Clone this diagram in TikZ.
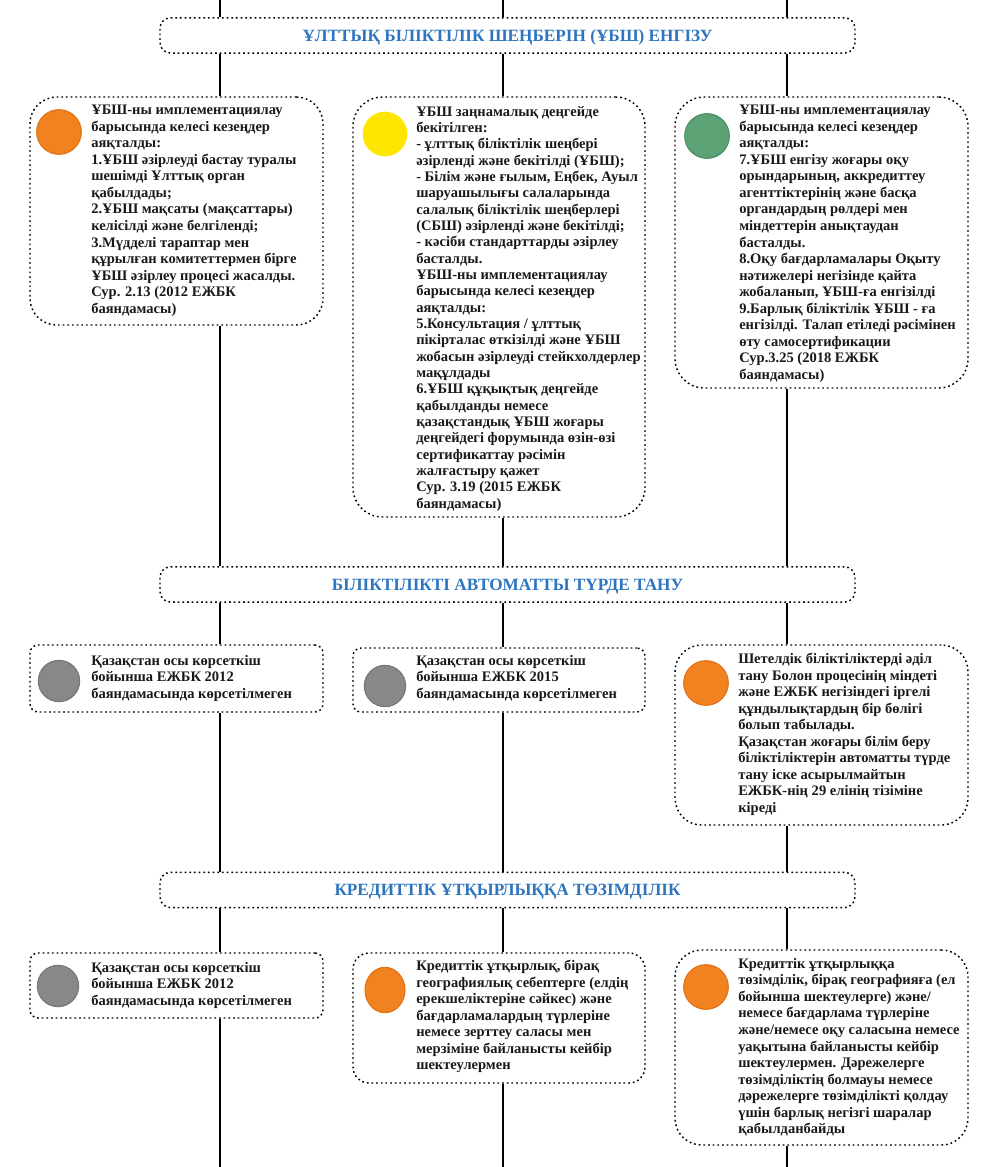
\documentclass[tikz,border=0pt]{standalone}
\usepackage{fontspec}
\setmainfont{Liberation Serif}
\usetikzlibrary{fit,shapes.geometric}
\definecolor{hblue}{RGB}{46,117,192}
\definecolor{txtc}{RGB}{25,25,25}
\definecolor{dorange}{RGB}{240,130,32}
\definecolor{dorangeb}{RGB}{228,112,20}
\definecolor{dyellow}{RGB}{255,230,0}
\definecolor{dgreen}{RGB}{92,162,116}
\definecolor{dgreenb}{RGB}{70,140,95}
\definecolor{dgray}{RGB}{136,136,136}
\definecolor{dgrayb}{RGB}{118,118,118}
\tikzset{
  box/.style={draw=black, line width=1.1pt, dash pattern=on 1.3pt off 2.2pt,
    rounded corners=#1, inner sep=0pt, fill=white},
  box/.default=18pt,
  head/.style={box=8pt, minimum width=521.25pt, minimum height=26.5pt, text depth=0pt,
    font=\bfseries\fontsize{12.9}{15}\selectfont, text=hblue},
  txt/.style={anchor=north west, align=left, inner sep=0pt, text=txtc,
    font=\bfseries\fontsize{10.9}{12.4}\selectfont},
  txtm/.style={txt, font=\bfseries\fontsize{10.9}{12.25}\selectfont},
  dot/.style={circle, inner sep=0pt, minimum size=33.5pt, line width=0.8pt},
  gdot/.style={circle, inner sep=0pt, minimum size=31pt, line width=0.8pt},
  oval/.style={ellipse, inner sep=0pt, minimum width=30pt, minimum height=34pt, line width=0.8pt},
  link/.style={line width=1.1pt, black}
}
\begin{document}
\begin{tikzpicture}[x=0.75pt,y=-0.75pt]
\useasboundingbox (0,0) rectangle (1000,1167);
\fill[white] (0,0) rectangle (1000,1167);

% column coordinates
\coordinate (tA) at (220,0);
\coordinate (tB) at (503,0);
\coordinate (tC) at (787,0);
\coordinate (bA) at (220,1167);
\coordinate (bB) at (503,1167);
\coordinate (bC) at (787,1167);

% headers
\node[head] (h1) at (507.5,35.5) {ҰЛТТЫҚ БІЛІКТІЛІК ШЕҢБЕРІН (ҰБШ) ЕНГІЗУ};
\node[head] (h2) at (507.5,584.5) {БІЛІКТІЛІКТІ АВТОМАТТЫ ТҮРДЕ ТАНУ};
\node[head] (h3) at (507.5,890) {КРЕДИТТІК ҰТҚЫРЛЫҚҚА ТӨЗІМДІЛІК};

% boxes
\node[box=20pt, fit={(30,97) (323,325)}] (L1) {};
\node[box=22pt, fit={(353,97) (645,517)}] (M1) {};
\node[box=22pt, fit={(675,97) (968,388)}] (R1) {};
\node[box=6pt, fit={(30,645) (323,712)}] (L2) {};
\node[box=6pt, fit={(353,648) (645,712)}] (M2) {};
\node[box=20pt, fit={(675,645) (968,825)}] (R2) {};
\node[box=6pt, fit={(30,953) (323,1018)}] (L3) {};
\node[box=12pt, fit={(353,953) (645,1083)}] (M3) {};
\node[box=20pt, fit={(675,950) (968,1145)}] (R3) {};

% connectors
\draw[link] (tA) -- (h1.north -| tA);
\draw[link] (tB) -- (h1.north -| tB);
\draw[link] (tC) -- (h1.north -| tC);
\draw[link] (h1.south -| tA) -- (L1.north -| tA);
\draw[link] (h1.south -| tB) -- (M1.north -| tB);
\draw[link] (h1.south -| tC) -- (R1.north -| tC);
\draw[link] (L1.south -| tA) -- (h2.north -| tA);
\draw[link] (M1.south -| tB) -- (h2.north -| tB);
\draw[link] (R1.south -| tC) -- (h2.north -| tC);
\draw[link] (h2.south -| tA) -- (L2.north -| tA);
\draw[link] (h2.south -| tB) -- (M2.north -| tB);
\draw[link] (h2.south -| tC) -- (R2.north -| tC);
\draw[link] (L2.south -| tA) -- (h3.north -| tA);
\draw[link] (M2.south -| tB) -- (h3.north -| tB);
\draw[link] (R2.south -| tC) -- (h3.north -| tC);
\draw[link] (h3.south -| tA) -- (L3.north -| tA);
\draw[link] (h3.south -| tB) -- (M3.north -| tB);
\draw[link] (h3.south -| tC) -- (R3.north -| tC);
\draw[link] (L3.south -| tA) -- (bA);
\draw[link] (M3.south -| tB) -- (bB);
\draw[link] (R3.south -| tC) -- (bC);

% dots
\node[dot, fill=dorange, draw=dorangeb] (cL1) at (59,132) {};
\node[dot, fill=dyellow] (cM1) at (385,134) {};
\node[dot, fill=dgreen, draw=dgreenb] (cR1) at (707,136) {};
\node[gdot, fill=dgray, draw=dgrayb] (cL2) at (59,681) {};
\node[gdot, fill=dgray, draw=dgrayb] (cM2) at (385,686) {};
\node[dot, fill=dorange, draw=dorangeb] (cR2) at (706,683) {};
\node[gdot, fill=dgray, draw=dgrayb] (cL3) at (58,986) {};
\node[oval, fill=dorange, draw=dorangeb] (cM3) at (385,990) {};
\node[dot, fill=dorange, draw=dorangeb] (cR3) at (706,987) {};

% texts
\node[txt] (tL1) at (91,105) {ҰБШ-ны имплементациялау\\
барысында келесі кезеңдер\\
аяқталды:\\
1.ҰБШ әзірлеуді бастау туралы\\
шешімді Ұлттық орган\\
қабылдады;\\
2.ҰБШ мақсаты (мақсаттары)\\
келісілді және белгіленді;\\
3.Мүдделі тараптар мен\\
құрылған комитеттермен бірге\\
ҰБШ әзірлеу процесі жасалды.\\
Сур. 2.13 (2012 ЕЖБК\\
баяндамасы)};

\node[txtm] (tM1) at (416,106) {ҰБШ заңнамалық деңгейде\\
бекітілген:\\
- ұлттық біліктілік шеңбері\\
әзірленді және бекітілді (ҰБШ);\\
- Білім және ғылым, Еңбек, Ауыл\\
шаруашылығы салаларында\\
салалық біліктілік шеңберлері\\
(СБШ) әзірленді және бекітілді;\\
- кәсіби стандарттарды әзірлеу\\
басталды.\\
ҰБШ-ны имплементациялау\\
барысында келесі кезеңдер\\
аяқталды:\\
5.Консультация / ұлттық\\
пікірталас өткізілді және ҰБШ\\
жобасын әзірлеуді стейкхолдерлер\\
мақұлдады\\
6.ҰБШ құқықтық деңгейде\\
қабылданды немесе\\
қазақстандық ҰБШ жоғары\\
деңгейдегі форумында өзін-өзі\\
сертификаттау рәсімін\\
жалғастыру қажет\\
Сур. 3.19 (2015 ЕЖБК\\
баяндамасы)};

\node[txt] (tR1) at (739,105) {ҰБШ-ны имплементациялау\\
барысында келесі кезеңдер\\
аяқталды:\\
7.ҰБШ енгізу жоғары оқу\\
орындарының, аккредиттеу\\
агенттіктерінің және басқа\\
органдардың рөлдері мен\\
міндеттерін анықтаудан\\
басталды.\\
8.Оқу бағдарламалары Оқыту\\
нәтижелері негізінде қайта\\
жобаланып, ҰБШ-ға енгізілді\\
9.Барлық біліктілік ҰБШ - ға\\
енгізілді. Талап етіледі рәсімінен\\
өту самосертификации\\
Сур.3.25 (2018 ЕЖБК\\
баяндамасы)};

\node[txt] (tL2) at (91,655) {Қазақстан осы көрсеткіш\\
бойынша ЕЖБК 2012\\
баяндамасында көрсетілмеген};

\node[txt] (tM2) at (416,655) {Қазақстан осы көрсеткіш\\
бойынша ЕЖБК 2015\\
баяндамасында көрсетілмеген};

\node[txt] (tR2) at (738,653) {Шетелдік біліктіліктерді әділ\\
тану Болон процесінің міндеті\\
және ЕЖБК негізіндегі іргелі\\
құндылықтардың бір бөлігі\\
болып табылады.\\
Қазақстан жоғары білім беру\\
біліктіліктерін автоматты түрде\\
тану іске асырылмайтын\\
ЕЖБК-нің 29 елінің тізіміне\\
кіреді};

\node[txt] (tL3) at (91,962) {Қазақстан осы көрсеткіш\\
бойынша ЕЖБК 2012\\
баяндамасында көрсетілмеген};

\node[txt] (tM3) at (416,960) {Кредиттік ұтқырлық, бірақ\\
географиялық себептерге (елдің\\
ерекшеліктеріне сәйкес) және\\
бағдарламалардың түрлеріне\\
немесе зерттеу саласы мен\\
мерзіміне байланысты кейбір\\
шектеулермен};

\node[txt] (tR3) at (738,958) {Кредиттік ұтқырлыққа\\
төзімділік, бірақ географияға (ел\\
бойынша шектеулерге) және/\\
немесе бағдарлама түрлеріне\\
және/немесе оқу саласына немесе\\
уақытына байланысты кейбір\\
шектеулермен. Дәрежелерге\\
төзімділіктің болмауы немесе\\
дәрежелерге төзімділікті қолдау\\
үшін барлық негізгі шаралар\\
қабылданбайды};
\end{tikzpicture}
\end{document}
